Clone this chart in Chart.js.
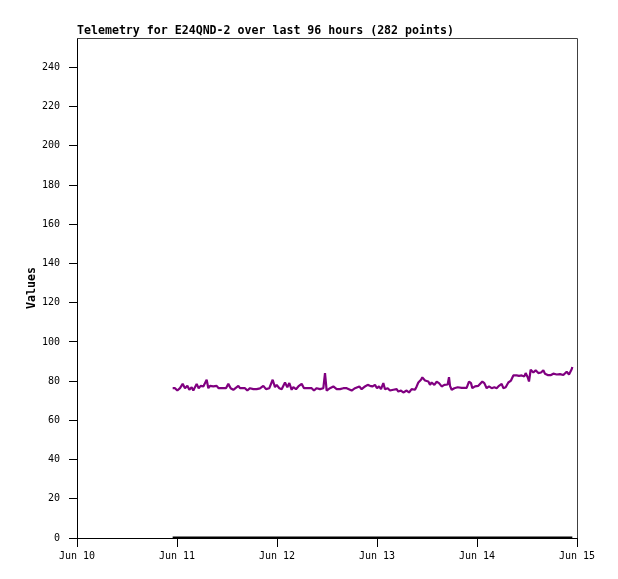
<!DOCTYPE html>
<html>
<head>
<meta charset="utf-8">
<script src="https://cdn.jsdelivr.net/npm/chart.js@4"></script>
<style>
  body { margin: 0; background: #fff; }
  #chart { display: block; }
</style>
</head>
<body>
<canvas id="chart" width="618" height="579"></canvas>
<script>
// hours since Jun 10 00:00
const hours = [22.96,23.52,24.08,24.72,25.36,25.92,26.48,26.96,27.52,27.92,28.72,29.2,29.68,30.32,31.12,31.52,31.92,32.72,33.52,34.0,
  35.12,35.76,36.32,36.88,37.52,38.72,39.12,40.32,40.88,41.52,42.32,43.12,43.92,44.72,45.36,46.16,46.96,47.52,47.92,48.56,
  49.12,49.92,50.48,50.96,51.52,51.92,52.56,53.12,53.92,54.48,55.12,56.32,56.88,57.52,58.32,59.12,59.52,59.92,60.72,61.52,
  62.32,63.12,63.92,64.72,65.92,66.72,67.76,68.32,69.12,69.76,70.32,70.88,71.52,72.0,72.48,72.96,73.52,73.92,74.56,75.12,
  75.92,76.72,77.12,77.76,78.32,79.12,79.68,80.32,81.12,81.52,81.92,82.56,82.88,83.52,84.32,84.72,85.12,85.76,86.32,86.88,
  87.52,88.16,88.96,89.28,89.52,89.92,90.56,91.36,92.32,93.52,94.08,94.56,94.88,95.52,96.32,97.28,97.76,98.32,98.88,99.52,
  100.16,100.72,101.28,101.92,102.32,102.88,103.52,104.16,104.72,105.52,106.08,106.72,107.36,107.68,108.16,108.48,108.88,109.52,110.08,110.72,
  111.36,111.92,112.32,112.96,113.76,114.32,115.12,115.92,116.72,117.52,118.08,118.72,118.88];
const values = [76.4,76.4,75.2,76.4,78.6,76.4,77.6,75.6,76.9,75.2,78.6,76.4,77.6,77.3,80.7,76.4,77.6,77.3,77.6,76.4,
  76.4,76.4,78.6,76.4,75.6,77.6,76.4,76.4,75.2,76.4,75.9,75.9,76.3,77.6,75.9,76.4,80.7,76.9,78.1,76.4,
  75.9,79.3,76.9,79.0,75.6,76.9,75.9,77.3,78.6,76.4,76.4,76.4,75.2,76.4,75.9,76.4,84.1,75.2,76.4,77.3,
  75.9,75.9,76.4,76.4,75.2,76.4,77.3,75.9,77.3,78.1,77.6,77.3,78.1,76.4,77.3,75.9,79.0,75.9,76.4,75.2,
  75.6,75.9,74.7,75.2,74.2,75.2,74.2,75.9,75.6,77.3,79.3,80.7,81.9,80.3,79.8,78.1,79.3,78.1,79.7,79.0,
  77.3,78.1,78.3,82.0,77.6,75.6,76.4,76.9,76.6,76.6,79.8,79.0,76.4,77.3,77.6,79.8,79.0,76.4,77.3,76.4,
  76.9,76.4,77.6,78.6,76.4,76.9,79.3,80.3,82.9,82.9,82.7,82.9,82.4,84.1,82.0,79.8,85.8,84.4,85.5,84.1,
  84.4,85.5,83.8,83.1,83.1,83.8,83.4,83.6,83.1,84.8,83.4,86.1,87.2];

const zeroHours = [22.96, 118.88];
const zeroValues = [0, 0];

const dayLabels = ["Jun 10", "Jun 11", "Jun 12", "Jun 13", "Jun 14", "Jun 15"];
const yTicks = [0, 20, 40, 60, 80, 100, 120, 140, 160, 180, 200, 220, 240];

const titleText = "Telemetry for E24QND-2 over last 96 hours (282 points)";

const tickFont = { family: "DejaVu Sans Mono", size: 10 };

// title and top/right frame
const framePlugin = {
  id: "frame",
  afterDraw(chart) {
    const ctx = chart.ctx;
    const a = chart.chartArea;
    ctx.save();
    ctx.strokeStyle = "#404040";
    ctx.lineWidth = 1;
    ctx.beginPath();
    ctx.moveTo(a.left, a.top + 0.5);
    ctx.lineTo(a.right + 0.5, a.top + 0.5);
    ctx.lineTo(a.right + 0.5, a.bottom);
    ctx.stroke();
    ctx.fillStyle = "#000";
    ctx.font = "bold 11.6px 'DejaVu Sans Mono'";
    ctx.textBaseline = "alphabetic";
    ctx.textAlign = "left";
    ctx.fillText(titleText, a.left, 34);
    ctx.restore();
  }
};

new Chart(document.getElementById("chart"), {
  type: "line",
  data: {
    datasets: [{
      data: hours.map((h, i) => ({ x: h, y: values[i] })),
      borderColor: "#800080",
      borderWidth: 2.2,
      borderJoinStyle: "bevel",
      pointRadius: 0,
      tension: 0
    }, {
      data: zeroHours.map((h, i) => ({ x: h, y: zeroValues[i] })),
      borderColor: "#000",
      borderWidth: 3,
      pointRadius: 0
    }]
  },
  options: {
    responsive: false,
    animation: false,
    devicePixelRatio: 1,
    layout: { padding: { top: 38, right: 41, left: 0, bottom: 0 } },
    plugins: { legend: { display: false }, tooltip: { enabled: false } },
    scales: {
      x: {
        type: "linear",
        min: 0,
        max: 120,
        afterFit(scale) { scale.height = 41; },
        afterBuildTicks(scale) {
          scale.ticks = dayLabels.map((l, i) => ({ value: i * 24 }));
        },
        ticks: {
          autoSkip: false,
          maxRotation: 0,
          color: "#000",
          font: tickFont,
          padding: 3,
          callback: (v) => dayLabels[Math.round(v / 24)]
        },
        grid: { drawOnChartArea: false, tickLength: 9, tickColor: "#000" },
        border: { color: "#000", width: 1 }
      },
      y: {
        min: 0,
        max: 255,
        afterFit(scale) { scale.width = 77; },
        afterBuildTicks(scale) {
          scale.ticks = yTicks.map(v => ({ value: v }));
        },
        ticks: {
          color: "#000",
          font: tickFont,
          padding: 9
        },
        grid: { drawOnChartArea: false, tickLength: 8, tickColor: "#000" },
        border: { color: "#000", width: 1 },
        title: {
          display: true,
          text: "Values",
          color: "#000",
          font: { family: "DejaVu Sans Mono", size: 11.6, weight: "bold" },
          padding: { top: 25, bottom: 0 }
        }
      }
    }
  },
  plugins: [framePlugin]
});
</script>
</body>
</html>
